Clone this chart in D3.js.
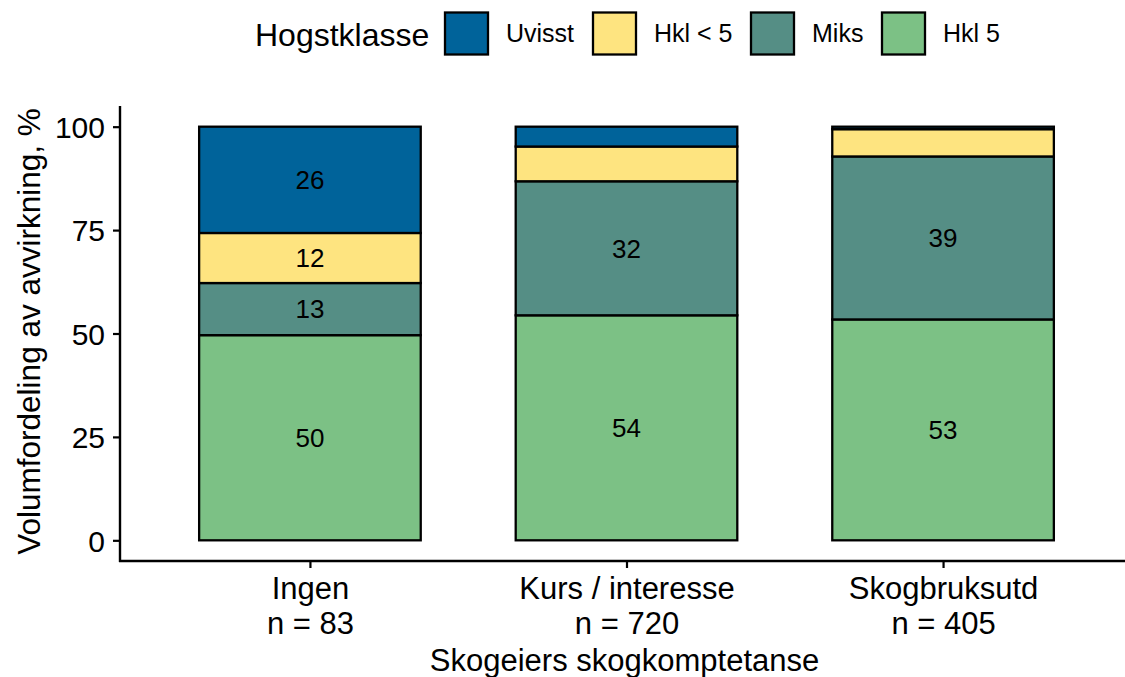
<!DOCTYPE html>
<html><head><meta charset="utf-8">
<script src="https://cdn.jsdelivr.net/npm/d3@7"></script>
<style>body{margin:0;background:#fff}svg{display:block}text{font-family:"Liberation Sans",Arial,sans-serif}</style>
</head><body><svg id="c" width="1125" height="677"></svg>
<script>
const categories = ["Ingen", "Kurs / interesse", "Skogbruksutd"];
const nLabels = ["n = 83", "n = 720", "n = 405"];
const series = ["Hkl 5", "Miks", "Hkl < 5", "Uvisst"]; // bottom to top
const legendOrder = ["Uvisst", "Hkl < 5", "Miks", "Hkl 5"];
const hkl5   = [49.6, 54.4, 53.4];
const miks   = [12.6, 32.4, 39.4];
const hklLt5 = [12.1, 8.4, 6.6];
const uvisst = [25.7, 4.8, 0.6];
const yTicks = [0, 25, 50, 75, 100];
const colors = {"Uvisst":"#00639A","Hkl < 5":"#FEE480","Miks":"#558E85","Hkl 5":"#7CC185"};

const rows = categories.map((c,i)=>({cat:c,"Hkl 5":hkl5[i],"Miks":miks[i],"Hkl < 5":hklLt5[i],"Uvisst":uvisst[i]}));
const stack = d3.stack().keys(series)(rows);

const svg = d3.select("#c");
const L = 120, R = 1133, T = 106, B = 561;
// ggplot style: expansion 0.6 units each side, bar width 0.7
const step = (R-L)/(categories.length-1+1.2);
const xc = c => L + step*(0.6 + categories.indexOf(c));
const bw = step*0.7;
const y = d3.scaleLinear().domain([-5,105]).range([B,T]);

const g = svg.append("g");
stack.forEach(s=>{
  g.selectAll(null).data(s).enter().append("rect")
    .attr("x",d=>xc(d.data.cat)-bw/2).attr("width",bw)
    .attr("y",d=>y(d[1])).attr("height",d=>y(d[0])-y(d[1]))
    .attr("fill",colors[s.key]).attr("stroke","#000").attr("stroke-width",2.3);
  g.selectAll(null).data(s.filter(d=>d[1]-d[0]>=10)).enter().append("text")
    .attr("x",d=>xc(d.data.cat)).attr("y",d=>y((d[0]+d[1])/2))
    .attr("dy","0.36em").attr("text-anchor","middle").attr("font-size",26)
    .text(d=>Math.round(d[1]-d[0]));
});

// y axis
const ya = svg.append("g").attr("transform",`translate(${L},0)`)
  .call(d3.axisLeft(y).tickValues(yTicks).tickSize(7).tickPadding(8));
ya.select(".domain").attr("stroke-width",2.4).attr("d",`M0,${T}V${B+1}`);
ya.selectAll(".tick line").attr("stroke-width",2.2);
ya.selectAll(".tick text").attr("font-size",30).attr("fill","#000").attr("dy","0.36em");

// x axis
const xs = d3.scalePoint().domain(categories).range([xc(categories[0]),xc(categories[2])]);
const xa = svg.append("g").attr("transform",`translate(0,${B})`)
  .call(d3.axisBottom(xs).tickSize(7).tickPadding(8));
xa.select(".domain").attr("stroke-width",2.4).attr("d",`M${L-1},0H1125`);
xa.selectAll(".tick line").attr("stroke-width",2.2);
xa.selectAll(".tick text").remove();
xa.selectAll(".tick").append("text").attr("fill","#000").attr("font-size",31)
  .attr("text-anchor","middle").attr("y",38).text(d=>d);
xa.selectAll(".tick").append("text").attr("fill","#000").attr("font-size",31)
  .attr("text-anchor","middle").attr("y",73).text((d,i)=>nLabels[i]);

svg.append("text").attr("x",(L+1125)/2 + 2).attr("y",671).attr("text-anchor","middle")
  .attr("font-size",31).text("Skogeiers skogkomptetanse");
svg.append("text").attr("transform",`translate(40,${(T+B)/2-2}) rotate(-90)`)
  .attr("text-anchor","middle").attr("font-size",31.5).text("Volumfordeling av avvirkning, %");

// legend
const lg = svg.append("g");
lg.append("text").attr("x",255).attr("y",46).attr("font-size",32).text("Hogstklasse");
const lx = [445, 593, 751, 882];
legendOrder.forEach((k,i)=>{
  lg.append("rect").attr("x",lx[i]).attr("y",12.5).attr("width",43).attr("height",42)
    .attr("fill",colors[k]).attr("stroke","#000").attr("stroke-width",2.3);
  lg.append("text").attr("x",lx[i]+61).attr("y",42).attr("font-size",25).text(k);
});
</script></body></html>
